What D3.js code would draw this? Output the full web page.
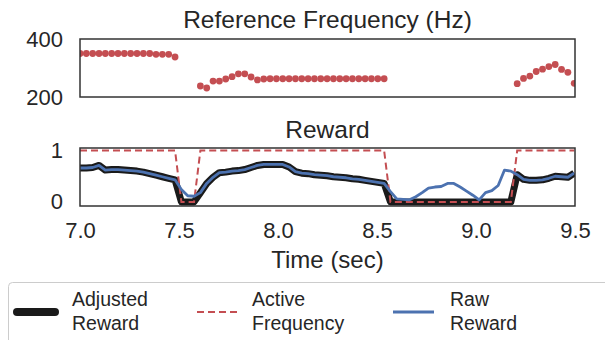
<!DOCTYPE html>
<html>
<head>
<meta charset="utf-8">
<script src="https://cdn.jsdelivr.net/npm/d3@7"></script>
<style>
  html, body { margin: 0; padding: 0; background: #fff; }
  svg { display: block; font-family: "Liberation Sans", Arial, sans-serif; }
</style>
</head>
<body>
<svg id="chart" width="605" height="340"></svg>
<script>
// sample timing (one sample every 0.032 s from 7.0 s)
const t0 = 7.0;
const dt = 0.032;

// reference frequency (Hz) per sample, null = no reference
const freq = [
  350, 350, 350, 350, 350, 350, 350, 350, 350, 350, 350, 350, 347, 347, 347, 338,
  null, null, null,
  238, 231, 255, 255, 262, 270, 280, 280, 269, 259, 262,
  263, 263, 263, 263, 263, 263, 263, 263, 263, 263, 263, 263, 263, 263, 263, 263, 263, 263, 263,
  null, null, null, null, null, null, null, null, null, null,
  null, null, null, null, null, null, null, null, null, null,
  246, 264, 272, 288, 296, 305, 312, 295, 285, 247
];

// raw reward per sample
const rawReward = [
  0.66, 0.66, 0.67, 0.71, 0.62, 0.63, 0.63, 0.62, 0.61, 0.60, 0.58, 0.55, 0.52, 0.49, 0.46, 0.43,
  0.24, 0.12, 0.11,
  0.18, 0.36, 0.48, 0.57, 0.58, 0.60, 0.61, 0.63, 0.67, 0.71, 0.73, 0.73, 0.73, 0.73, 0.68, 0.59,
  0.56, 0.55, 0.53, 0.52, 0.51, 0.49, 0.48, 0.47, 0.45, 0.44, 0.42, 0.40, 0.38, 0.36,
  0.20, 0.06, 0.05, 0.04, 0.10, 0.18, 0.27, 0.29, 0.30, 0.36, 0.36, 0.29, 0.21, 0.13, 0.04,
  0.18, 0.22, 0.32, 0.62, 0.60,
  0.53, 0.44, 0.42, 0.42, 0.43, 0.46, 0.50, 0.49, 0.48, 0.56
];

const xTicks = [7.0, 7.5, 8.0, 8.5, 9.0, 9.5];
const freqTicks = [200, 400];
const rewardTicks = [0, 1];

const legendItems = [
  {label: ["Adjusted", "Reward"], key: "adjusted"},
  {label: ["Active", "Frequency"], key: "active"},
  {label: ["Raw", "Reward"], key: "raw"}
];

const colRed = "#c44e52";
const colBlue = "#4c72b0";
const colBlack = "#1a1a1a";
const colText = "#262626";
const colFrame = "#333333";

const rows = rawReward.map((r, i) => {
  const f = freq[i];
  const active = f == null ? 0 : 1;
  return {t: t0 + i * dt, f, active, raw: r, adj: r * active};
});

const svg = d3.select("#chart");
const left = 80, right = 575;

const x = d3.scaleLinear().domain([7.0, 9.5]).range([left, right]);
const yF = d3.scaleLinear().domain([200, 400]).range([97, 39]);
const yR = d3.scaleLinear().domain([-0.08, 1.05]).range([206, 148]);

const defs = svg.append("defs");
defs.append("clipPath").attr("id", "clipR")
  .append("rect").attr("x", left).attr("y", 148).attr("width", right - left).attr("height", 58);
defs.append("clipPath").attr("id", "clipF")
  .append("rect").attr("x", left).attr("y", 39).attr("width", right - left).attr("height", 58);

function frame(y0, y1) {
  svg.append("rect")
    .attr("x", left).attr("y", y0)
    .attr("width", right - left).attr("height", y1 - y0)
    .attr("fill", "none").attr("stroke", colFrame).attr("stroke-width", 1.5);
}

function title(text, cx, baseline) {
  svg.append("text").attr("x", cx).attr("y", baseline)
    .attr("text-anchor", "middle").attr("fill", colText)
    .attr("font-size", 24.5).text(text);
}

function styleTicks(g) {
  g.select(".domain").remove();
  g.selectAll("text").attr("font-size", 22).attr("fill", colText);
  g.attr("font-family", null);
}

// --- top panel: reference frequency
svg.append("g").attr("clip-path", "url(#clipF)")
  .selectAll("circle").data(rows.filter(d => d.f != null))
  .join("circle")
  .attr("cx", d => x(d.t)).attr("cy", d => yF(d.f))
  .attr("r", 3.4).attr("fill", colRed);
frame(39, 97);
title("Reference Frequency (Hz)", (left + right) / 2, 28);

svg.append("g").attr("transform", `translate(${left},0)`)
  .call(d3.axisLeft(yF).tickValues(freqTicks).tickFormat(d3.format("d")).tickSize(0).tickPadding(17))
  .call(styleTicks);

// --- bottom panel: reward
const gR = svg.append("g").attr("clip-path", "url(#clipR)");
const line = acc => d3.line().x(d => x(d.t)).y(d => yR(acc(d)));

gR.append("path").datum(rows)
  .attr("d", line(d => d.adj)).attr("fill", "none")
  .attr("stroke", colBlack).attr("stroke-width", 7).attr("stroke-linejoin", "round");
gR.append("path").datum(rows)
  .attr("d", line(d => d.active)).attr("fill", "none")
  .attr("stroke", colRed).attr("stroke-width", 2).attr("stroke-dasharray", "7,4");
gR.append("path").datum(rows)
  .attr("d", line(d => d.raw)).attr("fill", "none")
  .attr("stroke", colBlue).attr("stroke-width", 2.8).attr("stroke-linejoin", "round");
frame(148, 206);
title("Reward", (left + right) / 2, 138);

svg.append("g").attr("transform", `translate(${left},0)`)
  .call(d3.axisLeft(yR).tickValues(rewardTicks).tickFormat(d3.format("d")).tickSize(0).tickPadding(17))
  .call(styleTicks);

svg.append("g").attr("transform", "translate(0,206)")
  .call(d3.axisBottom(x).tickValues(xTicks).tickFormat(d3.format(".1f")).tickSize(0).tickPadding(16))
  .call(styleTicks);

svg.append("text").attr("x", (left + right) / 2).attr("y", 268)
  .attr("text-anchor", "middle").attr("fill", colText).attr("font-size", 24)
  .text("Time (sec)");

// --- legend
const lg = svg.append("g");
lg.append("rect").attr("x", 8.5).attr("y", 282.5).attr("width", 610).attr("height", 70)
  .attr("rx", 4).attr("fill", "#fff").attr("stroke", "#cccccc").attr("stroke-width", 1);

const legendX = [14, 197, 393];
const items = lg.selectAll("g.item").data(legendItems).join("g")
  .attr("class", "item")
  .attr("transform", (d, i) => `translate(${legendX[i]},312)`);

items.append("line")
  .attr("x1", d => d.key === "adjusted" ? 3 : 0)
  .attr("x2", 41)
  .attr("y1", 0).attr("y2", 0)
  .attr("stroke", d => d.key === "adjusted" ? colBlack : d.key === "active" ? colRed : colBlue)
  .attr("stroke-width", d => d.key === "adjusted" ? 8 : d.key === "active" ? 2 : 2.8)
  .attr("stroke-linecap", d => d.key === "adjusted" ? "round" : "butt")
  .attr("stroke-dasharray", d => d.key === "active" ? "7,4" : null);

const textX = [58, 55, 57];
items.append("text")
  .attr("fill", colText).attr("font-size", 19.5)
  .each(function (d, i) {
    d3.select(this).selectAll("tspan").data(d.label).join("tspan")
      .attr("x", textX[i])
      .attr("y", (s, j) => j === 0 ? -6 : 18)
      .text(s => s);
  });
</script>
</body>
</html>
